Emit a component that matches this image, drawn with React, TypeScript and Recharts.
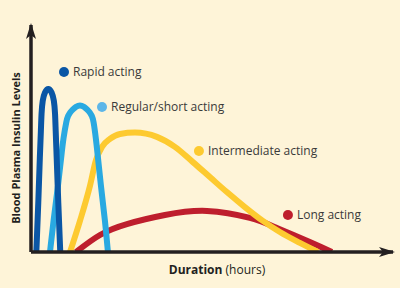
import { LineChart, Line, XAxis, YAxis, ReferenceDot } from 'recharts';

// Duration in hours (x) and relative plasma insulin level (y)
const rapidHours = [0.53, 0.73, 0.89, 0.99, 1.04, 1.15, 1.37, 1.72, 2.07, 2.29, 2.4, 2.45, 2.54, 2.71, 2.91];
const rapidLevel = [0, 21.6, 43.6, 53.7, 61.2, 67, 70.5, 72.5, 70.5, 67, 61.2, 53.7, 43.6, 21.6, 0];

const regularHours = [1.89, 2.24, 2.68, 3.05, 3.21, 3.53, 3.68, 3.88, 4.17, 4.47, 4.87, 5.27, 5.57, 5.86, 6.06, 6.21, 6.46, 6.61, 6.96, 7.36, 7.65];
const regularLevel = [0, 14.1, 28.6, 43.6, 49.8, 58.1, 59.9, 61.5, 62.8, 64.1, 64.8, 64.1, 62.8, 61.5, 59.9, 58.1, 49.8, 43.6, 28.6, 14.1, 0];

const intermediateHours = [3.88, 4.87, 5.86, 6.46, 7.06, 7.85, 8.85, 10.34, 12.52, 14.31, 16.1, 17.79, 19.48, 21.27, 23.06, 24.75, 26.74, 28.53];
const intermediateLevel = [0, 13.7, 29.1, 40.5, 46.3, 49.8, 52, 52.6, 50.7, 46.3, 39.6, 33, 26.4, 19.8, 13.7, 8.8, 4, 0];

const longHours = [4.47, 6.86, 9.54, 13.32, 17.5, 21.77, 24.45, 27.73, 29.92];
const longLevel = [0, 7.5, 12.3, 16.3, 18.1, 15, 10.6, 4.4, 0];

const seriesNames = ['Rapid acting', 'Regular/short acting', 'Intermediate acting', 'Long acting'];
const labelHours = [3.28, 7.06, 16.7, 25.55];
const labelLevel = [79.3, 63.9, 44.5, 16.3];

const COLORS = ['#0a56a5', '#29a9e1', '#fdca30', '#be1e2d'];
const DOT_COLORS = ['#0a56a5', '#5db6e8', '#fdca30', '#be1e2d'];

const toPoints = (xs: number[], ys: number[]) => xs.map((x, i) => ({ x, y: ys[i] }));

const rapid = toPoints(rapidHours, rapidLevel);
const regular = toPoints(regularHours, regularLevel);
const intermediate = toPoints(intermediateHours, intermediateLevel);
const long = toPoints(longHours, longLevel);

const FONT = '"Open Sans", "Noto Sans", sans-serif';
const AXIS = '#231f20';

export default function App() {
  return (
    <div style={{ position: 'absolute', left: 0, top: 0, width: 400, height: 288, background: '#fef4d8' }}>
      <LineChart width={400} height={288} margin={{ top: 25, right: 7, bottom: 0, left: 0 }}>
        <defs>
          <marker
            id="arrow"
            viewBox="0 0 16 10"
            refX={14}
            refY={5}
            markerWidth={16}
            markerHeight={10}
            markerUnits="userSpaceOnUse"
            orient="auto-start-reverse"
          >
            <path d="M0,0 L16,5 L0,10 L4,5 Z" fill={AXIS} />
          </marker>
        </defs>
        <XAxis
          dataKey="x"
          type="number"
          domain={[0, 36]}
          allowDataOverflow
          height={36}
          tick={false}
          tickLine={false}
          axisLine={{ stroke: AXIS, strokeWidth: 3.5, markerEnd: 'url(#arrow)' }}
          label={({ viewBox }: any) => (
            <text
              x={viewBox.x + viewBox.width / 2 + 5}
              y={viewBox.y + 22}
              textAnchor="middle"
              fontFamily={FONT}
              fontSize={12}
              fill="#231f20"
            >
              <tspan fontWeight="bold">Duration</tspan>
              <tspan> (hours)</tspan>
            </text>
          )}
        />
        <YAxis
          type="number"
          domain={[0, 100]}
          allowDataOverflow
          width={31}
          tick={false}
          tickLine={false}
          axisLine={{ stroke: AXIS, strokeWidth: 3.5, markerStart: 'url(#arrow)' }}
          label={() => (
            <text
              x={19.5}
              y={148}
              transform="rotate(-90, 19.5, 148)"
              textAnchor="middle"
              fontFamily={FONT}
              fontSize={11}
              fontWeight="bold"
              fill="#231f20"
            >
              Blood Plasma Insulin Levels
            </text>
          )}
        />
        <Line data={long} dataKey="y" type="natural" stroke={COLORS[3]} strokeWidth={6} dot={false} activeDot={false} isAnimationActive={false} />
        <Line data={intermediate} dataKey="y" type="monotone" stroke={COLORS[2]} strokeWidth={6} dot={false} activeDot={false} isAnimationActive={false} />
        <Line data={regular} dataKey="y" type="basis" stroke={COLORS[1]} strokeWidth={6} dot={false} activeDot={false} isAnimationActive={false} />
        <Line data={rapid} dataKey="y" type="basis" stroke={COLORS[0]} strokeWidth={6} dot={false} activeDot={false} isAnimationActive={false} />
        {seriesNames.map((name, i) => (
          <ReferenceDot
            key={name}
            x={labelHours[i]}
            y={labelLevel[i]}
            r={5}
            fill={DOT_COLORS[i]}
            stroke="none"
            label={{ value: name, position: 'right', offset: 4, fill: '#3a3a3a', fontSize: 12, fontFamily: FONT }}
          />
        ))}
      </LineChart>
    </div>
  );
}
